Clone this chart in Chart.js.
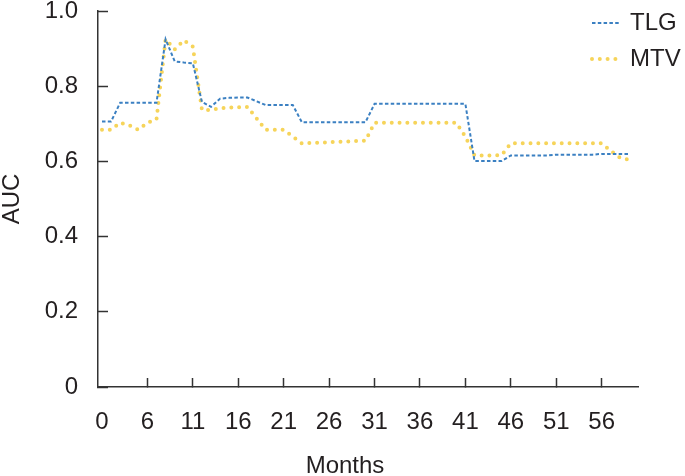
<!DOCTYPE html>
<html>
<head>
<meta charset="utf-8">
<script src="https://cdn.jsdelivr.net/npm/chart.js@4/dist/chart.umd.min.js"></script>
<style>
  html, body { margin: 0; padding: 0; background: #fff; }
  canvas { display: block; }
</style>
</head>
<body>
<canvas id="chart" width="685" height="476"></canvas>
<script>
// category values along the x axis (one per data point)
const months = [0, 2, 3, 4, 5, 6, 7, 8, 9, 10, 11, 12, 13, 14, 15, 16, 17, 18, 19, 20,
  21, 22, 23, 24, 25, 26, 27, 28, 29, 30, 31, 32, 33, 34, 35, 36, 37, 38, 39, 40,
  41, 42, 43, 44, 45, 46, 47, 48, 49, 50, 51, 52, 53, 54, 55, 56, 57, 58, 59];

const tlg = [0.706, 0.706, 0.756, 0.756, 0.756, 0.756, 0.756, 0.925, 0.866, 0.863,
  0.861, 0.758, 0.745, 0.767, 0.769, 0.770, 0.770, 0.760, 0.750, 0.750,
  0.750, 0.750, 0.704, 0.704, 0.704, 0.704, 0.704, 0.704, 0.704, 0.704,
  0.753, 0.753, 0.753, 0.753, 0.753, 0.753, 0.753, 0.753, 0.753, 0.753,
  0.753, 0.601, 0.601, 0.601, 0.601, 0.616, 0.616, 0.616, 0.616, 0.616,
  0.618, 0.618, 0.618, 0.618, 0.618, 0.620, 0.620, 0.620, 0.620];

const mtv = [0.684, 0.684, 0.703, 0.696, 0.684, 0.703, 0.712, 0.925, 0.898, 0.922,
  0.905, 0.737, 0.737, 0.741, 0.743, 0.744, 0.745, 0.715, 0.684, 0.684,
  0.684, 0.666, 0.648, 0.649, 0.650, 0.651, 0.652, 0.653, 0.654, 0.655,
  0.703, 0.703, 0.703, 0.703, 0.703, 0.703, 0.703, 0.703, 0.703, 0.703,
  0.666, 0.616, 0.616, 0.616, 0.617, 0.648, 0.648, 0.648, 0.648, 0.648,
  0.648, 0.648, 0.648, 0.648, 0.648, 0.648, 0.628, 0.610, 0.604];

// positions (category index) that carry a label on the x axis
const xTickIndex = [0, 5, 10, 15, 20, 25, 30, 35, 40, 45, 50, 55];
const yTickLabels = ['0', '0.2', '0.4', '0.6', '0.8', '1.0'];

const FONT = '"Liberation Sans", Arial, Helvetica, sans-serif';
const INK = '#231f20';
const AXIS = '#333333';

Chart.defaults.font.family = FONT;
Chart.defaults.font.size = 24;
Chart.defaults.color = INK;

const toPoints = (vals) => vals.map((v, i) => ({ x: i, y: v }));

// legend at top right + x axis title
const overlay = {
  id: 'overlay',
  afterDraw(chart) {
    const { ctx } = chart;
    ctx.save();
    ctx.font = '24px ' + FONT;
    ctx.fillStyle = INK;
    ctx.textBaseline = 'middle';
    ctx.textAlign = 'center';
    ctx.fillText('Months', 345, 466);

    chart.data.datasets.forEach((ds, i) => {
      const y = 23 + i * 36;
      ctx.beginPath();
      ctx.setLineDash(ds.borderDash);
      ctx.lineCap = ds.borderCapStyle;
      ctx.lineWidth = ds.borderWidth;
      ctx.strokeStyle = ds.borderColor;
      ctx.moveTo(592, y);
      ctx.lineTo(621, y);
      ctx.stroke();
      ctx.setLineDash([]);
      ctx.textAlign = 'left';
      ctx.fillText(ds.label, 630, y);
    });
    ctx.restore();
  }
};

new Chart(document.getElementById('chart'), {
  type: 'line',
  data: {
    datasets: [
      {
        label: 'TLG',
        data: toPoints(tlg),
        borderColor: '#3b80c2',
        borderWidth: 2,
        borderDash: [3.5, 2.3],
        borderCapStyle: 'butt',
        pointRadius: 0,
        tension: 0,
        fill: false,
      },
      {
        label: 'MTV',
        data: toPoints(mtv),
        borderColor: '#f6d45a',
        borderWidth: 4,
        borderDash: [0, 7.8],
        borderCapStyle: 'round',
        pointRadius: 0,
        tension: 0,
        fill: false,
      },
    ],
  },
  options: {
    responsive: false,
    animation: false,
    layout: { padding: { top: 11, right: 47, left: 0, bottom: 0 } },
    plugins: {
      legend: { display: false },
      tooltip: { enabled: false },
    },
    scales: {
      x: {
        type: 'linear',
        min: -0.44,
        max: 59,
        afterBuildTicks: (scale) => {
          scale.ticks = xTickIndex.map((v) => ({ value: v }));
        },
        afterFit: (scale) => {
          scale.height = 89;
          scale.paddingLeft = 0;
          scale.paddingRight = 0;
        },
        border: { display: true, color: AXIS, width: 1.5 },
        grid: {
          drawOnChartArea: false,
          drawTicks: true,
          tickLength: -9,
          tickWidth: 1.5,
          tickColor: (ctx) => (ctx.index === 0 ? 'rgba(0,0,0,0)' : AXIS),
        },
        ticks: {
          padding: 30,
          maxRotation: 0,
          autoSkip: false,
          callback: (value) => String(months[value]),
        },
      },
      y: {
        min: 0,
        max: 1,
        afterBuildTicks: (scale) => {
          scale.ticks = yTickLabels.map((t) => ({ value: Number(t) }));
        },
        afterFit: (scale) => {
          scale.width = 98;
          scale.paddingTop = 0;
          scale.paddingBottom = 0;
        },
        border: { display: true, color: AXIS, width: 1.5 },
        grid: {
          drawOnChartArea: false,
          drawTicks: true,
          tickLength: -10,
          tickWidth: 1.5,
          tickColor: AXIS,
        },
        ticks: {
          padding: 30,
          callback: (value, index) => yTickLabels[index],
        },
        title: {
          display: true,
          text: 'AUC',
          padding: 0,
          font: { size: 24, lineHeight: 1 },
        },
      },
    },
  },
  plugins: [overlay],
});
</script>
</body>
</html>
